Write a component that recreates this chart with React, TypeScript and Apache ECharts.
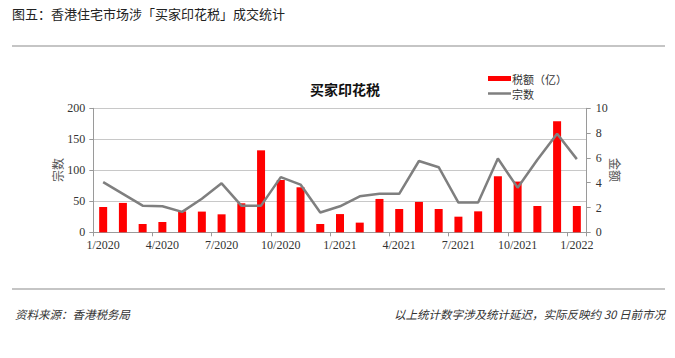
import React, { useEffect, useRef } from "react";
import * as echarts from "echarts";

const months = [
  "1/2020", "2/2020", "3/2020", "4/2020", "5/2020", "6/2020", "7/2020", "8/2020", "9/2020", "10/2020", "11/2020", "12/2020",
  "1/2021", "2/2021", "3/2021", "4/2021", "5/2021", "6/2021", "7/2021", "8/2021", "9/2021", "10/2021", "11/2021", "12/2021",
  "1/2022",
];
const taxAmount = [
  2.04, 2.37, 0.67, 0.83, 1.69, 1.67, 1.45, 2.34, 6.61, 4.22, 3.63, 0.67,
  1.47, 0.78, 2.69, 1.88, 2.45, 1.88, 1.26, 1.69, 4.52, 4.09, 2.12, 8.95,
  2.12,
];
const dealCount = [
  81, 62, 43, 42, 33, 54, 79, 43, 43, 89, 77, 32,
  42, 58, 62, 62, 115, 105, 48, 48, 119, 72, 117, 159,
  118,
];

const FOOT = "#333333";
const SERIF = "'Liberation Serif', 'Noto Sans CJK SC', serif";
const CJK = "'Noto Sans CJK SC', sans-serif";

export default function App() {
  const ref = useRef<HTMLDivElement>(null);
  useEffect(() => {
    if (!ref.current) return;
    const chart = echarts.init(ref.current, undefined, { renderer: "svg" });
    const gridLeft = 93.3;
    const gridRight = 88.3;
    chart.setOption({
      animation: false,
      backgroundColor: "#ffffff",
      title: {
        text: "买家印花税",
        left: 340,
        top: 77,
        textAlign: "center",
        textStyle: { fontFamily: CJK, fontSize: 14, fontWeight: "bold", color: "#111" },
      },
      legend: [
        {
          data: [{ name: "税额（亿）", icon: "rect" }],
          left: 488,
          top: 73,
          padding: 0,
          itemWidth: 23,
          itemHeight: 5,
          itemGap: 0,
          textStyle: { fontFamily: CJK, fontSize: 11, lineHeight: 11, color: "#333", padding: [0, 0, 0, -4] },
        },
        {
          data: [{ name: "宗数", icon: "rect" }],
          left: 488,
          top: 88,
          padding: 0,
          itemWidth: 23,
          itemHeight: 2.5,
          itemGap: 0,
          textStyle: { fontFamily: CJK, fontSize: 11, lineHeight: 11, color: "#333", padding: [0, 0, 0, -4] },
        },
      ],
      grid: { left: gridLeft, right: gridRight, top: 108.3, bottom: 358 - 232.3, containLabel: false },
      xAxis: {
        type: "category",
        data: months,
        boundaryGap: true,
        axisLine: { lineStyle: { color: "#9a9a9a", width: 1 } },
        axisTick: { show: true, interval: 2, length: 4, alignWithLabel: false, lineStyle: { color: "#9a9a9a" } },
        axisLabel: {
          interval: 2,
          margin: 7,
          fontFamily: SERIF,
          fontSize: 12,
          color: "#333",
        },
      },
      yAxis: [
        {
          type: "value",
          min: 0,
          max: 200,
          interval: 50,
          axisLine: { show: true, lineStyle: { color: "#9a9a9a" } },
          axisTick: { show: true, length: 4, lineStyle: { color: "#9a9a9a" } },
          axisLabel: { margin: 8, fontFamily: SERIF, fontSize: 12, color: "#333" },
          splitLine: { show: true, lineStyle: { color: "#c8c8c8", width: 1 } },
        },
        {
          type: "value",
          min: 0,
          max: 10,
          interval: 2,
          axisLine: { show: true, lineStyle: { color: "#9a9a9a" } },
          axisTick: { show: true, length: 4, lineStyle: { color: "#9a9a9a" } },
          axisLabel: { margin: 9, fontFamily: SERIF, fontSize: 12, color: "#333" },
          splitLine: { show: false },
        },
      ],
      series: [
        {
          name: "税额（亿）",
          type: "bar",
          yAxisIndex: 1,
          data: taxAmount,
          barWidth: 8,
          itemStyle: { color: "#FF0000" },
        },
        {
          name: "宗数",
          type: "line",
          yAxisIndex: 0,
          data: dealCount,
          symbol: "none",
          lineStyle: { color: "#7f7f7f", width: 2.5 },
          itemStyle: { color: "#7f7f7f" },
        },
      ],
      graphic: [
        {
          type: "text",
          left: 12,
          top: 7,
          style: {
            text: "图五：香港住宅市场涉「买家印花税」成交统计",
            font: `13px ${CJK}`,
            fill: "#222",
          },
        },
        {
          type: "text",
          x: 57,
          y: 170,
          rotation: Math.PI / 2,
          style: {
            text: "宗数",
            font: `12px ${CJK}`,
            fill: "#555",
            align: "center",
            verticalAlign: "middle",
          },
        },
        {
          type: "text",
          x: 615,
          y: 170,
          rotation: -Math.PI / 2,
          style: {
            text: "金额",
            font: `12px ${CJK}`,
            fill: "#555",
            align: "center",
            verticalAlign: "middle",
          },
        },
        {
          type: "line",
          shape: { x1: 12, y1: 46, x2: 665, y2: 46 },
          style: { stroke: "#8c8c8c", lineWidth: 1.2 },
        },
        {
          type: "line",
          shape: { x1: 12, y1: 289, x2: 665, y2: 289 },
          style: { stroke: "#8c8c8c", lineWidth: 1.2 },
        },
        {
          type: "text",
          left: 15,
          top: 308,
          style: {
            text: "资料来源：香港税务局",
            font: `italic 11.5px ${CJK}`,
            fill: FOOT,
          },
        },
        {
          type: "text",
          right: 10,
          top: 308,
          style: {
            text: "以上统计数字涉及统计延迟，实际反映约 30 日前市况",
            font: `italic 11.5px ${CJK}`,
            fill: FOOT,
          },
        },
      ],
    });
    return () => chart.dispose();
  }, []);
  return <div ref={ref} style={{ width: 675, height: 358, position: "absolute", left: 0, top: 0 }} />;
}
